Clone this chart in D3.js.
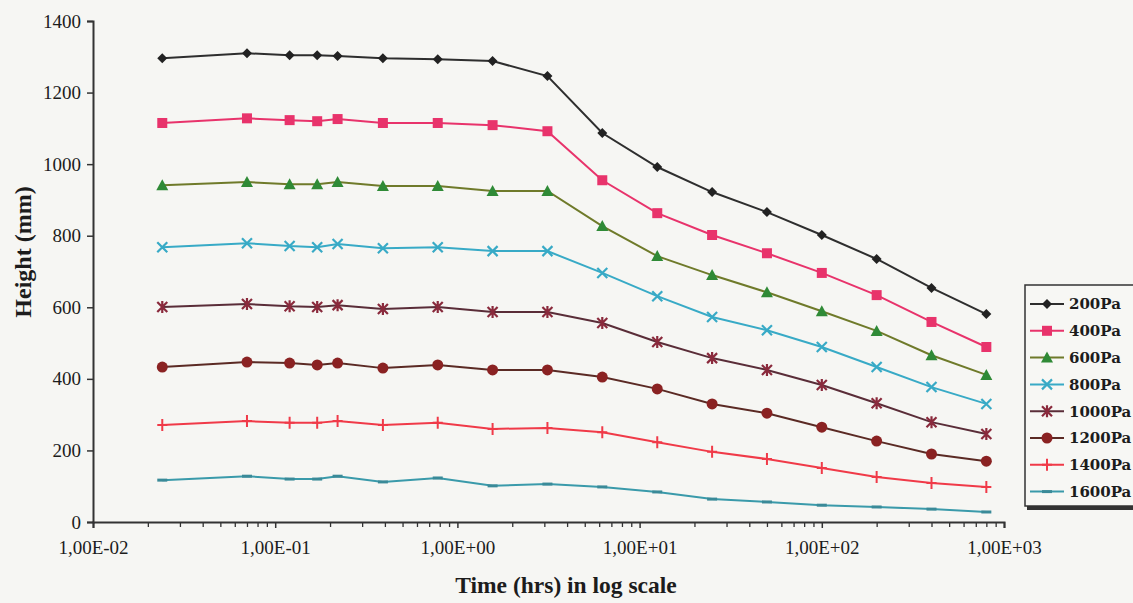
<!DOCTYPE html>
<html>
<head>
    <meta charset="utf-8">
    <title>height vs time</title>
    <style>
    body { margin: 0; background: #f6f6f3; }
    svg { display: block; }
    text { font-family: "Liberation Serif", "DejaVu Serif", serif; fill: #1c1c1c; }
    .tick text { font-size: 19px; }
    .axis path, .axis line { stroke: #333; }
    </style>
</head>
<body>
<script src="https://cdnjs.cloudflare.com/ajax/libs/d3/7.8.5/d3.min.js"></script>
<script>

var width = 1133,
    height = 603

// time in hours, same for every series
var times = [0.024, 0.07, 0.12, 0.17, 0.22, 0.39, 0.78, 1.56, 3.12, 6.24, 12.5, 25, 50, 100, 200, 400, 800]

var seriesNames = ['200Pa', '400Pa', '600Pa', '800Pa', '1000Pa', '1200Pa', '1400Pa', '1600Pa']

// heights in mm
var h200  = [1296, 1310, 1304, 1304, 1302, 1296, 1293, 1288, 1246, 1087, 992, 922, 866, 802, 735, 654, 581]
var h400  = [1115, 1128, 1123, 1120, 1126, 1115, 1115, 1109, 1092, 955, 863, 802, 751, 696, 634, 559, 489]
var h600  = [941, 950, 944, 944, 950, 939, 939, 925, 925, 827, 743, 690, 642, 589, 534, 466, 411]
var h800  = [768, 779, 771, 768, 777, 765, 768, 757, 757, 696, 631, 573, 536, 489, 433, 377, 330]
var h1000 = [601, 609, 603, 601, 606, 595, 601, 587, 587, 556, 503, 458, 425, 383, 332, 279, 246]
var h1200 = [433, 447, 444, 439, 444, 430, 439, 425, 425, 405, 372, 330, 304, 265, 226, 190, 170]
var h1400 = [271, 282, 277, 277, 282, 271, 277, 260, 263, 251, 223, 196, 176, 151, 126, 109, 98]
var h1600 = [117, 128, 120, 120, 128, 112, 123, 101, 106, 98, 84, 64, 56, 47, 42, 36, 28]

var yTicks = [0, 200, 400, 600, 800, 1000, 1200, 1400]
var xMajor = [0.01, 0.1, 1, 10, 100, 1000]
var xLabels = ['1,00E-02', '1,00E-01', '1,00E+00', '1,00E+01', '1,00E+02', '1,00E+03']

var allValues = [h200, h400, h600, h800, h1000, h1200, h1400, h1600]

// look of each series: line colour, marker colour, marker kind
var styles = [
    {line: '#2e2e2e', mark: '#222',    kind: 'diamond'},
    {line: '#e8336b', mark: '#e8336b', kind: 'square'},
    {line: '#6f7a2a', mark: '#2f8a36', kind: 'triangle'},
    {line: '#38aac6', mark: '#38aac6', kind: 'x'},
    {line: '#5a2d38', mark: '#8a2a3c', kind: 'star'},
    {line: '#5b2a24', mark: '#8a2222', kind: 'circle'},
    {line: '#f03a48', mark: '#f03a48', kind: 'plus'},
    {line: '#3a9aaa', mark: '#3a8a98', kind: 'dash'}
]

var x = d3.scaleLog().domain([0.01, 1000]).range([93, 1004])
var y = d3.scaleLinear().domain([0, 1400]).range([522, 21])

var svg = d3.select('body').append('svg')
    .attr('width', width)
    .attr('height', height)

// y axis
var yAxis = svg.append('g')
    .attr('class', 'axis')
    .attr('transform', 'translate(' + x(0.01) + ',0)')
    .call(d3.axisLeft(y).tickValues(yTicks).tickSize(6).tickPadding(6).tickFormat(d3.format('d')))
yAxis.select('.domain').attr('stroke-width', 2)
yAxis.selectAll('.tick line').attr('stroke-width', 1.5)

// x axis, minor ticks first
var minor = []
xMajor.slice(0, -1).forEach(function(d){
    for (var k = 2; k <= 9; k++) minor.push(d * k)
})
var xMinor = svg.append('g')
    .attr('class', 'axis')
    .attr('transform', 'translate(0,' + y(0) + ')')
    .call(d3.axisBottom(x).tickValues(minor).tickSize(5).tickFormat(''))
xMinor.select('.domain').remove()
xMinor.selectAll('.tick line').attr('stroke-width', 1.3)

var xAxis = svg.append('g')
    .attr('class', 'axis')
    .attr('transform', 'translate(0,' + y(0) + ')')
    .call(d3.axisBottom(x).tickValues(xMajor).tickSize(6).tickPadding(13)
        .tickFormat(function(d, i){ return xLabels[i] }))
xAxis.select('.domain').attr('stroke-width', 2)
xAxis.selectAll('.tick line').attr('stroke-width', 1.5)

// axis titles
svg.append('text')
    .attr('x', 566)
    .attr('y', 593)
    .attr('text-anchor', 'middle')
    .style('font-size', '23.5px')
    .style('font-weight', 'bold')
    .text('Time (hrs) in log scale')

svg.append('text')
    .attr('transform', 'translate(31,252) rotate(-90)')
    .attr('text-anchor', 'middle')
    .style('font-size', '24px')
    .style('font-weight', 'bold')
    .text('Height (mm)')

// marker drawing
function marker(g, kind, color){
    if (kind === 'diamond') {
        g.append('path').attr('d', 'M0,-5L5,0L0,5L-5,0Z').attr('fill', color)
    } else if (kind === 'square') {
        g.append('rect').attr('x', -5).attr('y', -5).attr('width', 10).attr('height', 10).attr('fill', color)
    } else if (kind === 'triangle') {
        g.append('path').attr('d', 'M0,-6L6,5L-6,5Z').attr('fill', color)
    } else if (kind === 'x') {
        g.append('path').attr('d', 'M-5,-5L5,5M5,-5L-5,5').attr('stroke', color).attr('stroke-width', 2.2)
    } else if (kind === 'star') {
        g.append('path').attr('d', 'M-5,-5L5,5M5,-5L-5,5M0,-6L0,6').attr('stroke', color).attr('stroke-width', 2.2)
    } else if (kind === 'circle') {
        g.append('circle').attr('r', 5.5).attr('fill', color)
    } else if (kind === 'plus') {
        g.append('path').attr('d', 'M-5,0L5,0M0,-6L0,6').attr('stroke', color).attr('stroke-width', 2)
    } else if (kind === 'dash') {
        g.append('path').attr('d', 'M-5,0L5,0').attr('stroke', color).attr('stroke-width', 3)
    }
}

var line = d3.line()
    .x(function(d){ return x(d[0]) })
    .y(function(d){ return y(d[1]) })

allValues.forEach(function(vals, s){
    var pts = times.map(function(t, i){ return [t, vals[i]] })
    var st = styles[s]
    svg.append('path')
        .datum(pts)
        .attr('fill', 'none')
        .attr('stroke', st.line)
        .attr('stroke-width', 2)
        .attr('d', line)
    svg.append('g').selectAll('g')
        .data(pts)
        .enter().append('g')
        .attr('transform', function(d){ return 'translate(' + x(d[0]) + ',' + y(d[1]) + ')' })
        .each(function(){ marker(d3.select(this), st.kind, st.mark) })
})

// legend
var legend = svg.append('g').attr('transform', 'translate(1025,285)')
legend.append('rect')
    .attr('x', 2).attr('y', 2)
    .attr('width', 130).attr('height', 223)
    .attr('fill', '#333')
legend.append('rect')
    .attr('width', 130).attr('height', 221)
    .attr('fill', '#f7f7f4')
    .attr('stroke', '#333')
    .attr('stroke-width', 1.5)

var item = legend.selectAll('.item')
    .data(seriesNames)
    .enter().append('g')
    .attr('class', 'item')
    .attr('transform', function(d, i){ return 'translate(0,' + (19 + i * 26.8) + ')' })

item.append('line')
    .attr('x1', 5).attr('x2', 39)
    .attr('stroke', function(d, i){ return styles[i].line })
    .attr('stroke-width', 2)
item.each(function(d, i){
    var g = d3.select(this).append('g').attr('transform', 'translate(22,0)')
    marker(g, styles[i].kind, styles[i].mark)
})
item.append('text')
    .attr('x', 44)
    .attr('dy', '0.36em')
    .style('font-family', '"DejaVu Serif", serif')
    .style('font-size', '15px')
    .style('font-weight', 'bold')
    .text(function(d){ return d })

</script>
</body>
</html>
